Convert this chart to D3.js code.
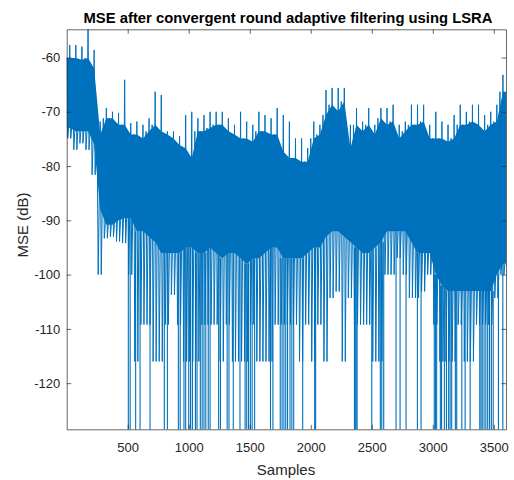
<!DOCTYPE html>
<html>
<head>
<meta charset="utf-8">
<script src="https://cdn.jsdelivr.net/npm/d3@7/dist/d3.min.js"></script>
<style>
	body { margin: 0; background: #fff; }
	svg { display: block; font-family: "Liberation Sans", Arial, Helvetica, sans-serif; }
</style>
</head>
<body>
<div id="mse-chart"></div>
<script>
const binSize = 50;
const peakDb = [
	-57.7, -57.7, -58.0, -54.8, -58.6,
	-71.8, -69.3, -70.0, -70.2, -64.1,
	-72.1, -71.8, -72.4, -71.2, -66.3, -66.9, -73.6,
	-73.6, -74.5, -70.6, -70.0, -71.2, -70.6, -70.0, -70.0, -70.0, -71.2, -72.4, -70.0, -71.8, -72.4, -70.0, -70.6, -71.2, -69.3,
	-70.6, -71.8, -74.9, -74.9, -76.7, -71.8, -72.4, -66.0, -65.6, -65.6, -65.6, -72.4, -69.3, -71.8, -69.3, -72.4, -69.3, -69.3,
	-68.7, -72.4, -71.8, -68.7, -68.7, -68.7, -72.4, -70.0, -71.8, -72.4, -70.6, -68.7, -70.0, -68.7, -68.7, -70.6, -70.0, -68.7, -63.2
];
const bandTopDb = [
	-60.1, -60.1, -60.4, -60.1, -62.0,
	-74.2, -71.2, -71.2, -72.4, -72.4,
	-74.2, -74.2, -74.9, -73.6, -72.4, -73.6, -74.2,
	-74.9, -76.1, -76.7, -78.5, -73.6, -73.6, -73.0, -72.4, -72.4, -73.6, -74.2, -74.9, -74.9, -75.5, -73.6, -73.6, -74.2, -74.2,
	-77.3, -78.5, -78.5, -79.2, -79.2, -74.9, -74.2, -70.6, -68.7, -69.9, -68.1, -76.7, -72.4, -73.6, -72.4, -74.2, -71.2, -72.4,
	-71.8, -74.9, -73.6, -72.4, -72.4, -71.8, -74.9, -74.9, -74.9, -75.5, -74.9, -72.4, -72.4, -71.8, -72.4, -73.6, -72.4, -71.8, -66.3
];
const coreDb = [
	-73.0, -73.6, -73.6, -73.6, -76.0,
	-88.0, -90.8, -90.8, -90.0, -89.6,
	-89.6, -92.0, -92.0, -93.0, -94.0, -96.0, -96.0,
	-96, -96, -95, -95, -96, -96, -95, -96, -97, -96, -96, -97, -98, -97, -97, -96, -95, -95,
	-97, -97, -97, -97, -96, -95, -95, -93, -92, -92, -93, -94, -95, -96, -96, -95, -94, -92,
	-92, -92, -92, -94, -96, -96, -96, -100, -102, -103, -103, -103, -103, -103, -103, -103, -103, -100, -98
];
const lowDb = [
	-74.9, -77.0, -75.8, -77.0, -81.6,
	-100.0, -93.3, -93.0, -93.9, -94.2,
	-100.0, -116.0, -109.2, -109.2, -116.0, -116.0, -109.2,
	-103.7, -109.2, -116.0, -116.0, -116.0, -109.2, -109.2, -109.2, -116.0, -109.2, -116.0, -116.0, -116.0, -109.2, -116.0, -116.0, -116.0, -109.2,
	-109.2, -109.2, -109.2, -116.0, -109.2, -116.0, -109.2, -116.0, -104.3, -103.1, -116.0, -104.3, -109.2, -109.2, -109.2, -116.0, -116.0, -100.0,
	-100.0, -96.9, -100.0, -104.3, -104.3, -103.1, -100.0, -109.2, -116.0, -116.0, -116.0, -109.2, -116.0, -116.0, -109.2, -109.2, -109.2, -104.3, -100.0
];
// samples where the error drops to the floor
const floorDb = -128.5;
const floorDrops = [
	505, 520, 565, 601, 683, 800, 825, 915, 930, 961, 975, 1000, 1015, 1030, 1055, 1068,
	1095, 1110, 1125, 1140, 1160, 1175, 1245, 1260, 1315, 1330, 1365, 1420, 1462, 1475,
	1490, 1505, 1520, 1540, 1670, 1690, 1750, 1765, 1780, 1795, 1810, 1830, 1845, 1860,
	1934, 2032, 2040, 2358, 2365, 2372, 2380, 2500, 2570, 2582, 2598, 2699, 2732, 2781,
	2874, 2904, 3012, 3022, 3032, 3062, 3072, 3095, 3112, 3130, 3142, 3155, 3185, 3196,
	3238, 3265, 3306, 3385, 3395, 3405, 3420, 3435, 3450, 3465, 3480, 3495, 3538, 3574
];
const xTicks = [500, 1000, 1500, 2000, 2500, 3000, 3500];
const yTicks = [-120, -110, -100, -90, -80, -70, -60];
const xDomain = [0, 3600];
const yDomain = [floorDb, -54.8];

const lineColor = '#0072BD';
const axisColor = '#262626';

const init = () => {
	const W = 514, H = 480;
	const margin = { top: 29.3, right: 8, bottom: 50.7, left: 66.7 };

	const svg = d3.select('#mse-chart').append('svg').attr('width', W).attr('height', H);

	const x = d3.scaleLinear().domain(xDomain).range([margin.left, W - margin.right]);
	const y = d3.scaleLinear().domain(yDomain).range([H - margin.bottom, margin.top]);

	svg.append('clipPath').attr('id', 'plot-clip')
		.append('rect')
		.attr('x', margin.left).attr('y', margin.top)
		.attr('width', W - margin.left - margin.right)
		.attr('height', H - margin.top - margin.bottom);

	const plot = svg.append('g').attr('clip-path', 'url(#plot-clip)');

	// dense core of the trace
	const bins = bandTopDb.map((d, i) => ({ s: i * binSize + binSize / 2, top: d, core: coreDb[i] }));
	bins.unshift({ s: 0, top: bandTopDb[0], core: coreDb[0] });
	bins.push({ s: xDomain[1], top: bandTopDb[bandTopDb.length - 1], core: coreDb[coreDb.length - 1] });
	plot.append('path')
		.datum(bins)
		.attr('fill', lineColor)
		.attr('d', d3.area().x((d) => x(d.s)).y0((d) => y(d.core)).y1((d) => y(d.top)));

	// swing of the trace inside each bin
	const pts = [];
	bandTopDb.forEach((d, i) => {
		const s0 = i * binSize;
		pts.push([s0, d]);
		pts.push([s0 + 8, lowDb[i]]);
		pts.push([s0 + 16, coreDb[i]]);
		pts.push([s0 + 25, peakDb[i]]);
		pts.push([s0 + 33, lowDb[i]]);
		pts.push([s0 + 41, coreDb[i]]);
	});
	plot.append('path')
		.datum(pts)
		.attr('fill', 'none')
		.attr('stroke', lineColor)
		.attr('stroke-width', 1)
		.attr('d', d3.line().x((d) => x(d[0])).y((d) => y(d[1])));

	// drops to the floor
	plot.append('g')
		.selectAll('line')
		.data(floorDrops)
		.enter()
		.append('line')
		.attr('x1', (d) => x(d)).attr('x2', (d) => x(d))
		.attr('y1', (d) => y(coreDb[Math.min(coreDb.length - 1, Math.floor(d / binSize))]))
		.attr('y2', y(floorDb) + 2)
		.attr('stroke', lineColor)
		.attr('stroke-width', 1.1);

	// axes, MATLAB style ticks pointing inward
	const styleAxis = (g) => {
		g.selectAll('path.domain').attr('stroke', axisColor).attr('stroke-width', 0.7);
		g.selectAll('.tick line').attr('stroke', axisColor).attr('stroke-width', 0.7);
		g.selectAll('.tick text').attr('fill', axisColor).style('font-size', '13px');
	};
	svg.append('g')
		.attr('transform', `translate(0, ${H - margin.bottom})`)
		.call(d3.axisBottom(x).tickValues(xTicks).tickSize(-4.5).tickSizeOuter(0).tickPadding(13.8).tickFormat(d3.format('d')))
		.call(styleAxis);
	svg.append('g')
		.attr('transform', `translate(0, ${margin.top})`)
		.call(d3.axisTop(x).tickValues(xTicks).tickSize(-4.5).tickSizeOuter(0).tickFormat(''))
		.call(styleAxis);
	svg.append('g')
		.attr('transform', `translate(${margin.left}, 0)`)
		.call(d3.axisLeft(y).tickValues(yTicks).tickSize(-4.5).tickSizeOuter(0).tickPadding(6.5).tickFormat((d) => String(d)))
		.call(styleAxis);
	svg.append('g')
		.attr('transform', `translate(${W - margin.right}, 0)`)
		.call(d3.axisRight(y).tickValues(yTicks).tickSize(-4.5).tickSizeOuter(0).tickFormat(''))
		.call(styleAxis);

	// title and labels
	svg.append('text')
		.attr('x', 288).attr('y', 22.5)
		.attr('text-anchor', 'middle')
		.attr('textLength', 409).attr('lengthAdjust', 'spacingAndGlyphs')
		.style('font-size', '14.5px').style('font-weight', 'bold')
		.attr('fill', '#000')
		.text('MSE after convergent round adaptive filtering using LSRA');
	svg.append('text')
		.attr('x', 286).attr('y', 475)
		.attr('text-anchor', 'middle')
		.style('font-size', '15px')
		.attr('fill', axisColor)
		.text('Samples');
	svg.append('text')
		.attr('transform', 'translate(28, 225) rotate(-90)')
		.attr('text-anchor', 'middle')
		.style('font-size', '15px')
		.attr('fill', axisColor)
		.text('MSE (dB)');
};

init();
</script>
</body>
</html>
